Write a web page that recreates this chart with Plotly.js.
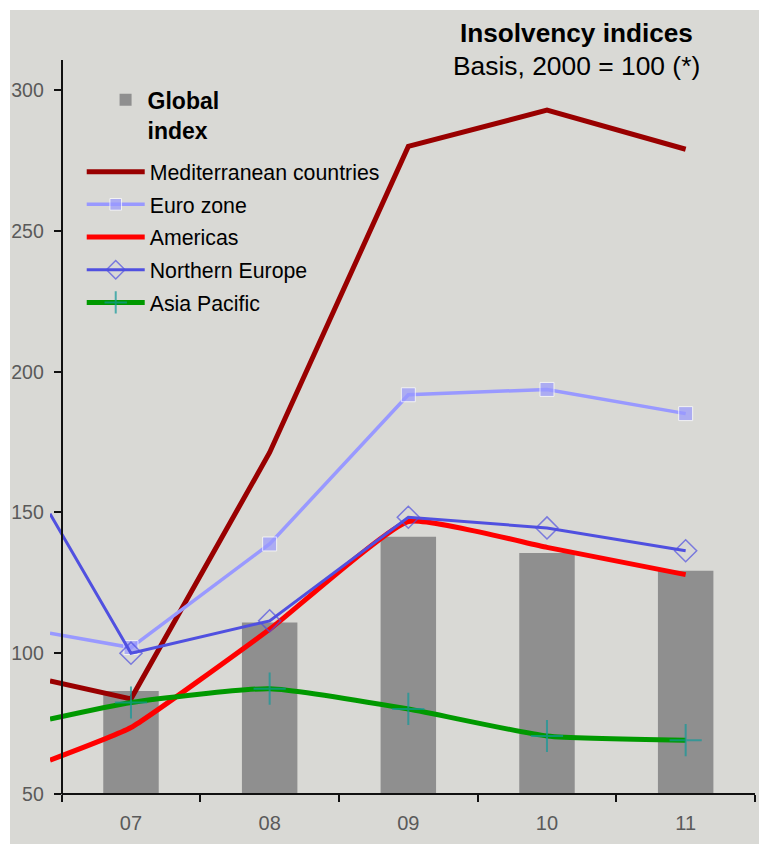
<!DOCTYPE html>
<html><head><meta charset="utf-8">
<script src="https://cdn.plot.ly/plotly-3.0.1.min.js"></script>
<style>html,body{margin:0;padding:0;background:#fff;} #chart{position:absolute;left:10px;top:10px;width:749px;height:834px;}</style>
</head><body><div id="chart"></div>
<script>
// ---- data ----
const categories = ['07', '08', '09', '10', '11'];
const globalIndex = [86.6, 110.9, 141.4, 135.6, 129.3];
// first value = where each line enters at the left edge of the frame, then one value per category
const mediterranean = [90.2, 83.8, 171.3, 280.0, 292.9, 279.0];
const euroZone = [107.1, 102.0, 138.8, 191.8, 193.7, 185.1];
const americas = [62.0, 73.6, 108.5, 146.8, 137.6, 127.9];
const northernEurope = [149.5, 100.0, 111.5, 148.3, 144.5, 136.4];
const asiaPacific = [76.6, 82.5, 87.4, 80.2, 70.6, 69.1];
const yTicks = [50, 100, 150, 200, 250, 300];

// ---- layout helpers ----
const FONT = 'Liberation Sans, Arial, sans-serif';
const catX = categories.map((c, i) => i);
const edgeX = -0.584;
const lineX = [edgeX].concat(catX);
const xMax = categories.length - 0.5;
const yAxisPos = (-0.5 - edgeX) / (xMax - edgeX);
const mk = (s) => [0].concat(catX.map(() => s));

const traces = [
  {type: 'bar', x: catX, y: globalIndex, width: 0.4, name: '<b>Global<br>index</b>',
   marker: {color: '#8f8f8f'}, legend: 'legend2'},
  {type: 'scatter', mode: 'lines', x: lineX, y: mediterranean, name: 'Mediterranean countries',
   legendgroup: 'g1', line: {color: '#990000', width: 5}},
  {type: 'scatter', mode: 'lines+markers', x: lineX, y: euroZone, name: 'Euro zone',
   legendgroup: 'g2', line: {color: '#9999ff', width: 3.5},
   marker: {symbol: 'square', size: mk(14), color: '#9999ff'}},
  {type: 'scatter', mode: 'lines', x: lineX, y: americas, name: 'Americas',
   legendgroup: 'g3', line: {color: '#ff0000', width: 5, shape: 'spline', smoothing: 0.4}},
  {type: 'scatter', mode: 'lines+markers', x: lineX, y: northernEurope, name: 'Northern Europe',
   legendgroup: 'g4', line: {color: '#5050e0', width: 3},
   marker: {symbol: 'diamond-open', size: mk(17), color: '#5050e0', line: {width: 1.5, color: '#5050e0'}}},
  {type: 'scatter', mode: 'lines+markers', x: lineX, y: asiaPacific, name: 'Asia Pacific',
   legendgroup: 'g5', line: {color: '#009900', width: 5, shape: 'spline', smoothing: 0.5},
   marker: {symbol: 'cross-thin-open', size: mk(23), color: '#119999', line: {width: 2, color: '#119999'}}}
];

const layout = {
  width: 749, height: 834,
  margin: {l: 40, r: 4, t: 50, b: 50},
  paper_bgcolor: '#d9d9d5', plot_bgcolor: 'rgba(0,0,0,0)',
  font: {family: FONT, color: '#000'},
  showlegend: true,
  xaxis: {
    range: [edgeX, xMax], tickmode: 'array', tickvals: catX, ticktext: categories,
    ticks: 'outside', ticklen: 11, tickcolor: 'rgba(0,0,0,0)',
    tickfont: {size: 20, color: '#5a5a5a'},
    showgrid: false, zeroline: false, showline: false, fixedrange: true,
    minor: {tickmode: 'linear', tick0: -0.5, dtick: 1, ticks: 'outside', ticklen: 7,
            tickwidth: 2, tickcolor: '#111', showgrid: false}
  },
  yaxis: {
    range: [50, 310.7], anchor: 'free', position: yAxisPos,
    tickmode: 'array', tickvals: yTicks, ticks: 'outside', ticklen: 7, tickwidth: 2,
    tickcolor: '#111', showline: true, linecolor: '#111', linewidth: 2,
    showgrid: false, zeroline: false, ticklabelstandoff: 6,
    tickfont: {size: 19.5, color: '#5a5a5a'}, fixedrange: true
  },
  legend: {x: 0.045, y: 0.8756, xanchor: 'left', yanchor: 'top', bgcolor: 'rgba(0,0,0,0)',
           font: {family: FONT, size: 21.3, color: '#000'}, tracegroupgap: 2, itemclick: false,
           itemwidth: 58},
  legend2: {x: 0.076, y: 0.975, xanchor: 'left', yanchor: 'top', bgcolor: 'rgba(0,0,0,0)',
            font: {family: FONT, size: 23, color: '#000'}, valign: 'top', itemclick: false,
            itemwidth: 34},
  shapes: [{type: 'line', xref: 'x', yref: 'paper', x0: -0.5, x1: xMax, y0: 0, y1: 0,
            line: {color: '#111', width: 2}}],
  annotations: [
    {xref: 'paper', yref: 'paper', x: 0.7475, y: 1.0368, xanchor: 'center', yanchor: 'middle',
     text: '<b>Insolvency indices</b>', showarrow: false, font: {family: FONT, size: 26.2, color: '#000'}},
    {xref: 'paper', yref: 'paper', x: 0.7475, y: 0.9918, xanchor: 'center', yanchor: 'middle',
     text: 'Basis, 2000 = 100 (*)', showarrow: false, font: {family: FONT, size: 26.4, color: '#000'}}
  ]
};

Plotly.newPlot('chart', traces, layout, {displayModeBar: false, staticPlot: true});
</script></body></html>
